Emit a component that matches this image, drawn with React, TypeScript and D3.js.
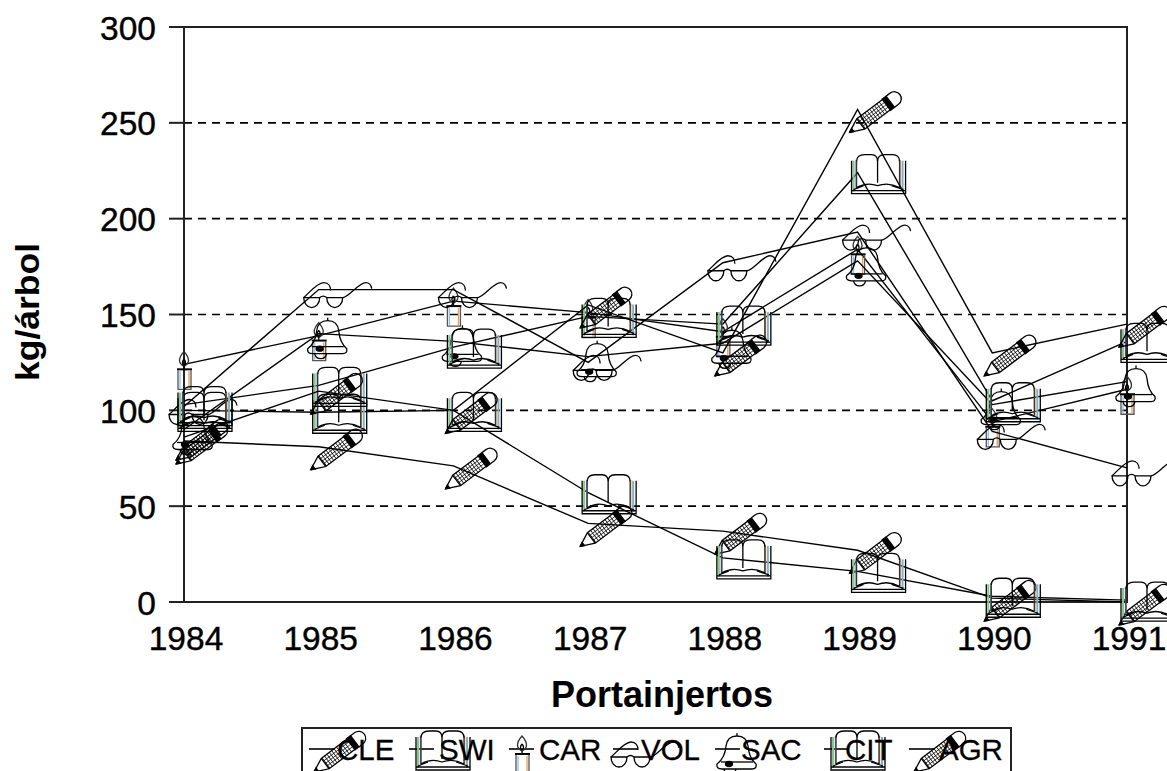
import React from "react";
import * as d3 from "d3";

const years = ["1984", "1985", "1986", "1987", "1988", "1989", "1990", "1991"];
const yTicks = [0, 50, 100, 150, 200, 250, 300];
const gridTicks = [50, 100, 150, 200, 250];

const CLE = [84, 81, 71, 41, 37, 27, 2, 0];
const SWI = [100, 99, 100, 57, 23, 16, 3, 1];
const CAR = [124, 139, 157, 151, 141, 184, 94, 111];
const VOL = [102, 163, 163, 125, 177, 193, 89, 70];
const SAC = [90, 140, 136, 128, 135, 178, 103, 115];
const CIT = [103, 113, 133, 149, 145, 224, 105, 136];
const AGR = [86, 110, 100, 155, 130, 257, 130, 145];

type Kind = "pencil" | "book" | "candle" | "glasses" | "bell";
const seriesNames = ["CLE", "SWI", "CAR", "VOL", "SAC", "CIT", "AGR"];
const seriesValues = [CLE, SWI, CAR, VOL, SAC, CIT, AGR];
const seriesGlyphs: Kind[] = ["pencil", "book", "candle", "glasses", "bell", "book", "pencil"];

const legendSwatchX = [322, 422, 522, 626, 728, 837, 922];
const legendTextX = [337, 439, 539, 641, 741, 845, 939];

const W = 1167, H = 771;
const x = d3.scalePoint<string>().domain(years).range([184, 1127]);
const y = d3.scaleLinear().domain([0, 300]).range([602, 27]);
const lineGen = d3.line<number>().x((_, i) => x(years[i]) as number).y((d) => y(d));

const FONT = "'Liberation Sans', Arial, sans-serif";

function Pencil() {
  const hatch = d3.range(15, 45, 3);
  return (
    <g transform="translate(-8,23) rotate(-37)">
      <path d="M0,0 L14,-6.5 H47 M0,0 L14,6.5 H47 M14,-6.5 V6.5" />
      {hatch.map((h) => (
        <path key={h} d={`M${h},-6.5 V6.5`} strokeWidth={0.8} />
      ))}
      <path d="M14,-3 H46 M14,0 H46 M14,3 H46" strokeWidth={0.7} />
      <rect x={46} y={-7} width={5} height={14} fill="#000" />
      <path d="M51,-7 H56 A7,7 0 0 1 56,7 H51" />
      <path d="M0,0 L4,-2 V2 Z" fill="#000" />
    </g>
  );
}

function Book() {
  return (
    <g>
      <path d="M-4,-12 V19" stroke="#86c886" strokeWidth={2} />
      <path d="M-1.5,-13 V15" stroke="#7a78c8" strokeWidth={1.4} />
      <path d="M42.5,-13 V15" stroke="#d08040" strokeWidth={1.4} />
      <path d="M45,-12 V19" stroke="#7fb4c8" strokeWidth={2} />
      <path d="M-6,-12 V21 H48 V-12" />
      <path d="M-1,-11 Q-1,-18 7,-18 H14 Q20,-18 20,-11 V10 M20,-11 Q20,-18 27,-18 H35 Q42,-18 42,-11" />
      <path d="M-1,-11 V15 M42,-11 V15" stroke="#333" />
      <path d="M-1,15 Q9,9 20,13 Q31,9 42,15" />
      <path d="M-6,18 H48 M-4,17 L6,13 M46,17 L34,13" />
    </g>
  );
}

function Candle() {
  return (
    <g>
      <path d="M0,-13 C-6,-6 -6,-1 0,2 C6,-1 6,-6 0,-13 Z" stroke="#333" />
      <path d="M0,-5 C-2,-3 -2,0 0,1 C2,0 2,-3 0,-5" />
      <path d="M0,2 V5" />
      <path d="M-7,5 H8" strokeWidth={2} />
      <path d="M-6,6 V25 H7 V6" stroke="#555" />
      <path d="M-4,7 V24" stroke="#8fc0e8" />
      <path d="M5,7 V24" stroke="#e0a060" />
    </g>
  );
}

function Glasses() {
  return (
    <g>
      <path d="M-15,8 H1 A8,10 0 0 1 -15,8 Z" />
      <path d="M8,8 H24 A8,10 0 0 1 8,8 Z" />
      <path d="M1,8 Q4.5,5 8,8" />
      <path d="M-15,8 C-10,4 -2,-7 5,-7 C10,-7 12,-3 12,1" />
      <path d="M24,8 C30,8 40,-7 47,-7 Q52,-7 53,-1" />
    </g>
  );
}

function Bell() {
  return (
    <g>
      <path d="M9,-16 V-13" />
      <path d="M-11,15 Q-3,9 -2,-3 C-1,-11 4,-13 9,-13 C14,-13 19,-11 20,-3 Q21,9 28,15 Q29,20 24,20 H-6 Q-12,20 -11,15 Z" />
      <path d="M-7,13 H25" />
      <path d="M-4,20 Q-3,25 2,25 Q7,25 8,20" />
      <ellipse cx={1} cy={15} rx={3.5} ry={2.5} fill="#000" />
    </g>
  );
}

const glyphs: Record<Kind, () => React.ReactElement> = {
  pencil: Pencil,
  book: Book,
  candle: Candle,
  glasses: Glasses,
  bell: Bell,
};

function Glyph({ kind, px, py }: { kind: Kind; px: number; py: number }) {
  const G = glyphs[kind];
  return (
    <g transform={`translate(${px},${py})`} fill="none" stroke="#000" strokeWidth={1.3}>
      <G />
    </g>
  );
}

export default function App() {
  return (
    <svg
      width={W}
      height={H}
      viewBox={`0 0 ${W} ${H}`}
      style={{ position: "absolute", left: 0, top: 0, background: "#fff", display: "block" }}
      fontFamily={FONT}
    >
      {gridTicks.map((t) => (
        <line key={t} x1={184} x2={1127} y1={y(t)} y2={y(t)} stroke="#000" strokeWidth={1.6} strokeDasharray="8 6" />
      ))}
      <rect x={184} y={27} width={943} height={575} fill="none" stroke="#222" strokeWidth={2} />
      {yTicks.map((t) => (
        <g key={t}>
          <line x1={169} x2={184} y1={y(t)} y2={y(t)} stroke="#222" strokeWidth={2} />
          <text x={156} y={y(t) + 12.5} fontSize={33.5} textAnchor="end" fill="#000" stroke="#000" strokeWidth={0.4}>
            {t}
          </text>
        </g>
      ))}
      {years.map((yr) => (
        <text key={yr} x={(x(yr) as number) + 2} y={650} fontSize={33.5} textAnchor="middle" fill="#000" stroke="#000" strokeWidth={0.4}>
          {yr}
        </text>
      ))}

      {seriesValues.map((vals, si) => (
        <g key={seriesNames[si]}>
          <path d={lineGen(vals) as string} fill="none" stroke="#000" strokeWidth={1.4} />
          {vals.map((v, i) => (
            <Glyph key={i} kind={seriesGlyphs[si]} px={x(years[i]) as number} py={y(v)} />
          ))}
        </g>
      ))}

      <text x={662} y={707} fontSize={36} fontWeight="bold" textAnchor="middle" fill="#000"
        textLength={222} lengthAdjust="spacingAndGlyphs">
        Portainjertos
      </text>
      <text transform="translate(39,312) rotate(-90)" fontSize={34} fontWeight="bold" textAnchor="middle" fill="#000"
        textLength={138} lengthAdjust="spacingAndGlyphs">
        kg/árbol
      </text>

      <rect x={302} y={728} width={709} height={70} fill="none" stroke="#222" strokeWidth={2} />
      {seriesNames.map((name, i) => (
        <g key={name}>
          <line x1={legendSwatchX[i] - 13} x2={legendSwatchX[i] + 12} y1={749} y2={749} stroke="#000" strokeWidth={1.6} />
          <Glyph kind={seriesGlyphs[i]} px={legendSwatchX[i]} py={749} />
          <text x={legendTextX[i]} y={760} fontSize={29.5} fill="#000" stroke="#000" strokeWidth={0.3}>
            {name}
          </text>
        </g>
      ))}
    </svg>
  );
}
